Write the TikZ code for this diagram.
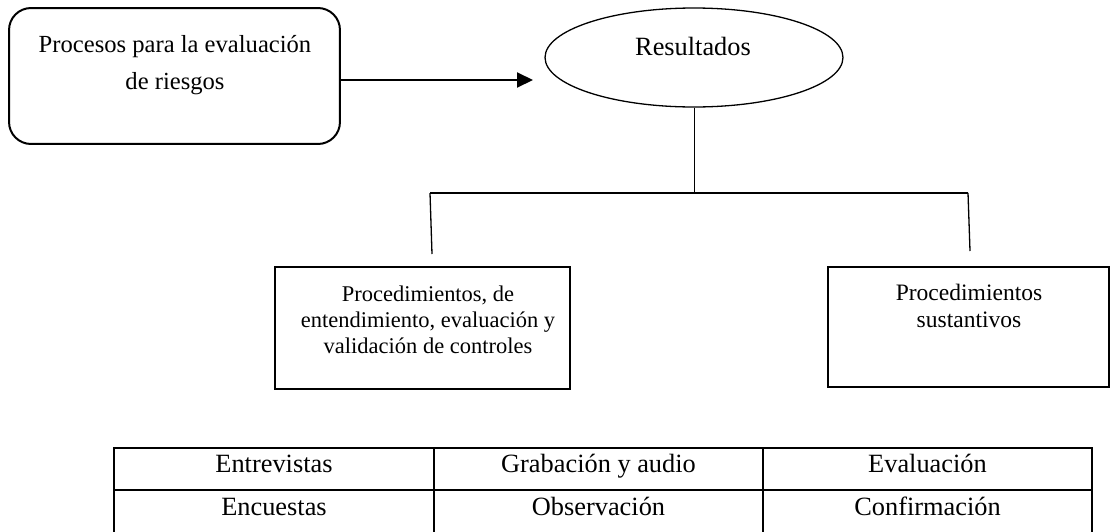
\documentclass[tikz,border=0pt]{standalone}
\usepackage{fontspec}
\setmainfont{Liberation Serif}
\usetikzlibrary{arrows.meta,shapes.geometric}

\begin{document}
\begin{tikzpicture}[x=0.02cm, y=-0.02cm,
		caja/.style={draw, line width=0.04cm, inner sep=0pt, outer sep=0pt},
		texto/.style={align=center, inner sep=0pt, anchor=north},
		celda/.style={draw, line width=0.04cm, inner sep=0pt, outer sep=0pt, text height=0.7em, text depth=0.25em, font=\fontsize{15}{17}\selectfont},
		rama/.style={line width=0.026cm}]
			%%%%% START %%%%%
			
			\useasboundingbox (0,0) rectangle (1115,531);
			\clip (0,0) rectangle (1115,531);
			
			% procesos y resultados
			\node[caja, rounded corners=0.44cm, minimum width=6.62cm, minimum height=2.72cm] (proc) at (174.5,76) {};
			\node[texto, font=\fontsize{14}{21}\selectfont] (proctxt) at (175,35) {Procesos para la evaluación\\de riesgos};
			
			\node[ellipse, draw, line width=0.026cm, inner sep=0pt, minimum width=5.96cm, minimum height=1.98cm] (res) at (694,57.5) {};
			\node[anchor=base, inner sep=0pt, font=\fontsize{15}{21}\selectfont] (restxt) at (693,55) {Resultados};
			
			\coordinate (punta) at (533,80);
			\draw[line width=0.04cm, -{Triangle[length=0.32cm, width=0.3cm]}] (proc.east |- punta) -- (punta);
			
			% ramas
			\coordinate (barL) at (430,193);
			\coordinate (barR) at (968,193);
			\coordinate (finL) at (432,254);
			\coordinate (finR) at (970,251);
			\draw[line width=0.02cm] (res.south) -- (res.south |- barL);
			\draw[line width=0.04cm] (barL) -- (barR);
			\draw[rama] (barL) -- (finL);
			\draw[rama] (barR) -- (finR);
			
			% procedimientos
			\node[caja, minimum width=5.9cm, minimum height=2.44cm] (ctrl) at (422.5,328) {};
			\node[texto, font=\fontsize{12.8}{14.8}\selectfont] (ctrltxt) at (428,285.5) {Procedimientos, de\\entendimiento, evaluación y\\validación de controles};
			
			\node[caja, minimum width=5.62cm, minimum height=2.4cm] (sust) at (968.5,327) {};
			\node[texto, font=\fontsize{13.4}{15.4}\selectfont] (susttxt) at (969,284) {Procedimientos\\sustantivos};
			
			% tabla
			\node[celda, minimum width=6.4cm, minimum height=0.84cm] (ent) at (274,469) {Entrevistas};
			\node[celda, minimum width=6.58cm, minimum height=0.84cm] (grab) at (598.5,469) {Grabación y audio};
			\node[celda, minimum width=6.58cm, minimum height=0.84cm] (eval) at (927.5,469) {Evaluación};
			\node[celda, minimum width=6.4cm, minimum height=0.86cm] (enc) at (274,511.5) {Encuestas};
			\node[celda, minimum width=6.58cm, minimum height=0.86cm] (obs) at (598.5,511.5) {Observación};
			\node[celda, minimum width=6.58cm, minimum height=0.86cm] (conf) at (927.5,511.5) {Confirmación};
			
			%%%%% END %%%%%
\end{tikzpicture}
\end{document}
